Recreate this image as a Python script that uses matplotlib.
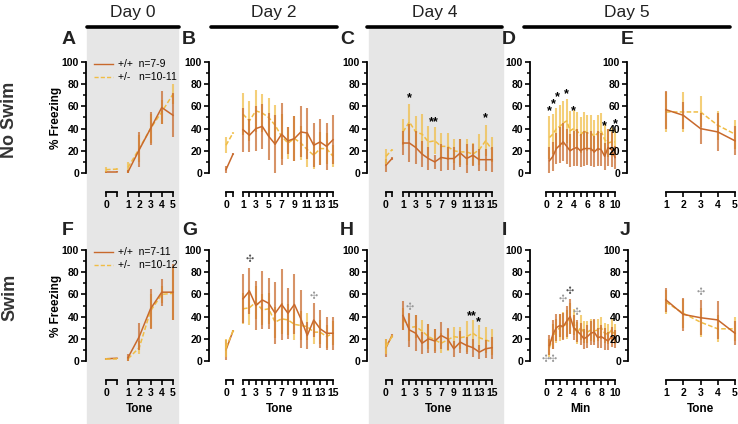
import numpy as np
import matplotlib
matplotlib.use('Agg')
import matplotlib.pyplot as plt
from matplotlib.lines import Line2D
from matplotlib.patches import Rectangle

plt.rcParams['font.family'] = ['Liberation Sans', 'DejaVu Sans']

# ---------------- data (means and error, % freezing) ----------------
tones5 = [1, 2, 3, 4, 5]
tones15 = list(range(1, 16))
minutes = [0.5 * i for i in range(1, 21)]
base_x = [0, 1]

# Day 0, no swim (A)
A_wt_base, A_wt_base_err = [1, 1], [1, 0.5]
A_het_base, A_het_base_err = [3, 3.5], [2, 1]
A_wt, A_wt_err = [1, 21, 40, 59, 52], [2, 16, 15, 15, 20]
A_het, A_het_err = [5, 22, 40, 55, 71], [5, 12, 13, 11, 9]

# Day 2, no swim (B)
B_wt_base, B_wt_base_err = [3, 17], [3, 1]
B_het_base, B_het_base_err = [25, 36], [7, 1]
B_wt = [39, 34, 40, 42, 33, 26, 35, 29, 31, 37, 36, 25, 28, 24, 30]
B_wt_err = [20, 15, 20, 20, 21, 26, 28, 12, 20, 23, 23, 20, 21, 21, 22]
B_het = [53, 47, 56, 54, 50, 43, 33, 27, 31, 27, 21, 16, 22, 22, 15]
B_het_err = [19, 18, 19, 17, 18, 18, 20, 14, 20, 15, 16, 12, 15, 14, 10]

# Day 4, no swim (C)
C_wt_base, C_wt_base_err = [7, 13], [6, 1]
C_het_base, C_het_base_err = [15, 21], [7, 1]
C_wt = [27, 27, 23, 17, 13, 10, 14, 13, 13, 18, 13, 16, 12, 12, 12]
C_wt_err = [11, 17, 15, 12, 10, 6, 12, 10, 10, 13, 13, 10, 10, 10, 11]
C_het = [37, 46, 37, 35, 28, 29, 24, 24, 20, 19, 19, 17, 21, 29, 21]
C_het_err = [12, 16, 14, 18, 14, 12, 12, 12, 11, 12, 12, 10, 14, 14, 11]

# Day 5 context, no swim (D)
D_wt = [11, 15, 22, 25, 28, 24, 20, 22, 23, 20, 22, 22, 22, 19, 22, 21, 15, 23, 21, 14]
D_wt_err = [12, 13, 14, 16, 17, 16, 15, 16, 17, 15, 16, 15, 16, 14, 16, 15, 12, 17, 16, 10]
D_het = [32, 35, 40, 42, 45, 47, 38, 40, 38, 34, 38, 36, 36, 33, 36, 38, 30, 27, 28, 28]
D_het_err = [19, 18, 19, 19, 20, 20, 18, 17, 17, 16, 17, 16, 16, 15, 16, 16, 14, 13, 13, 12]

# Day 5 tones, no swim (E)
E_wt, E_wt_err = [57, 52, 40, 37, 29], [17, 12, 14, 17, 13]
E_het, E_het_err = [55, 55, 55, 43, 35], [18, 18, 14, 13, 13]

# Day 0, swim (F)
F_wt_base, F_wt_base_err = [2, 2.5], [1, 0.5]
F_het_base, F_het_base_err = [2, 2], [1, 0.5]
F_wt, F_wt_err = [3, 22, 47, 62, 62], [3, 12, 18, 12, 25]
F_het, F_het_err = [2, 12, 45, 60, 61], [2, 6, 15, 8, 24]

# Day 2, swim (G)
G_wt_base, G_wt_base_err = [10, 27], [9, 1]
G_het_base, G_het_base_err = [12, 27], [8, 1]
G_wt = [56, 63, 50, 55, 52, 43, 51, 43, 51, 38, 23, 37, 29, 25, 25]
G_wt_err = [22, 21, 22, 26, 23, 28, 32, 23, 27, 26, 12, 15, 17, 15, 15]
G_het = [47, 48, 53, 46, 47, 35, 38, 37, 33, 32, 31, 26, 26, 22, 25]
G_het_err = [14, 16, 15, 14, 14, 14, 14, 14, 14, 13, 12, 11, 11, 10, 11]

# Day 4, swim (H)
H_wt_base, H_wt_base_err = [12, 23], [8, 1]
H_het_base, H_het_base_err = [13, 22], [7, 1]
H_wt = [41, 28, 25, 16, 20, 18, 23, 20, 11, 17, 14, 12, 8, 11, 12]
H_wt_err = [13, 15, 16, 10, 13, 11, 12, 10, 7, 10, 8, 8, 6, 8, 10]
H_het = [38, 30, 31, 27, 22, 19, 16, 19, 22, 21, 22, 25, 21, 19, 17]
H_het_err = [10, 12, 10, 10, 11, 10, 9, 10, 9, 10, 14, 12, 11, 12, 12]

# Day 5 context, swim (I)
I_wt = [14, 24, 30, 32, 31, 36, 40, 30, 27, 24, 20, 22, 25, 26, 21, 22, 20, 18, 22, 20]
I_wt_err = [9, 13, 12, 10, 12, 14, 16, 11, 10, 10, 9, 10, 11, 12, 9, 10, 10, 8, 9, 8]
I_het = [12, 22, 27, 30, 32, 33, 38, 35, 25, 30, 26, 26, 28, 27, 28, 30, 25, 24, 28, 24]
I_het_err = [8, 11, 11, 12, 12, 13, 14, 12, 10, 11, 10, 10, 10, 10, 10, 10, 9, 9, 10, 9]

# Day 5 tones, swim (J)
J_wt, J_wt_err = [55, 42, 39, 37, 25], [11, 15, 16, 17, 11]
J_het, J_het_err = [53, 43, 35, 29, 29], [11, 13, 13, 12, 11]

# significance marks: (x, y, text, colour)
C_marks = [(2, 67, '*', 'k'), (5.9, 46, '**', 'k'), (14, 49, '*', 'k')]
D_marks = [(0.5, 56, '*', 'k'), (1.1, 62, '*', 'k'), (1.6, 68, '*', 'k'),
           (3.0, 71, '*', 'k'), (4.0, 56, '*', 'k'), (8.5, 42, '*', 'k'), (10, 44, '*', 'k')]
G_marks = [(2, 92, '✣', '#555555'), (12, 59, '✣', '#999999')]
H_marks = [(2, 49, '✣', '#999999'), (11.8, 40, '**', 'k'), (12.9, 35, '*', 'k')]
I_marks = [(-0.1, 2, '✣', '#999999'), (1.0, 2, '✣', '#999999'), (2.45, 56, '✣', '#999999'),
           (3.5, 63, '✣', '#555555'), (4.5, 44, '✣', '#999999')]
J_marks = [(3, 62, '✣', '#999999')]

WT_C = '#c8692c'
HET_C = '#f0bd45'

# ---------------- layout helpers (pixel based) ----------------
W, H = 738, 424
fig = plt.figure(figsize=(W / 100, H / 100), dpi=100)


def fx(px):
    return px / W


def fy(py):
    return 1 - py / H


def make_ax(x0, x1, top, bottom):
    return fig.add_axes([fx(x0), fy(bottom), (x1 - x0) / W, (bottom - top) / H])


def style(ax, yaxis_gap=None):
    ax.set_facecolor('none')
    ax.set_ylim(0, 100)
    for s in ['top', 'right']:
        ax.spines[s].set_visible(False)
    ax.spines['bottom'].set_position(('outward', 19 * 0.72))
    ax.spines['bottom'].set_linewidth(1.3)
    ax.tick_params(axis='x', direction='out', length=3.5, width=1.2, pad=2,
                   labelsize=7.5)
    if yaxis_gap is None:
        ax.spines['left'].set_visible(False)
        ax.tick_params(axis='y', which='both', left=False, labelleft=False)
    else:
        ax.spines['left'].set_position(('outward', yaxis_gap * 0.72))
        ax.spines['left'].set_linewidth(1.3)
        ax.set_yticks([0, 20, 40, 60, 80, 100])
        ax.set_yticks([10, 30, 50, 70, 90], minor=True)
        ax.tick_params(axis='y', which='major', direction='out', length=3.5,
                       width=1.2, pad=1.5, labelsize=7.5)
        ax.tick_params(axis='y', which='minor', direction='out', length=2.2, width=1.1)
    for lab in ax.get_xticklabels() + ax.get_yticklabels():
        lab.set_fontweight('bold')


def draw(ax, x, m, e, color, ls):
    m = np.asarray(m, float)
    e = np.asarray(e, float)
    ax.vlines(x, np.clip(m - e, 0, None), m + e, colors=color, lw=1.5,
              alpha=0.72, clip_on=False)
    ax.plot(x, m, color=color, ls=ls, lw=1.1, clip_on=False)


def marks(ax, lst):
    for x, y, t, c in lst:
        ax.text(x, y, t, ha='center', va='center', color=c,
                fontsize=9 if t.startswith('*') else 7, fontweight='bold')


dash = (0, (3, 1.5))


def tone_panel(yaxis, zero, tones, top, bottom, n, wt_b, wt_be, het_b, het_be,
               wt, wt_e, het, het_e, extra=None):
    axz = make_ax(zero[0], zero[1], top, bottom)
    style(axz, yaxis_gap=zero[0] - yaxis)
    axz.set_xlim(0, 1)
    axz.set_xticks(base_x)
    axz.set_xticklabels(['0', ''])
    for lab in axz.get_xticklabels():
        lab.set_fontweight('bold')
    draw(axz, base_x, wt_b, wt_be, WT_C, '-')
    draw(axz, base_x, het_b, het_be, HET_C, dash)

    axt = make_ax(tones[0], tones[1], top, bottom)
    style(axt)
    xs = tones5 if n == 5 else tones15
    axt.set_xlim(1, n)
    axt.set_xticks(xs)
    axt.set_xticklabels([str(v) if (n == 5 or v % 2 == 1) else '' for v in xs])
    for lab in axt.get_xticklabels():
        lab.set_fontweight('bold')
    draw(axt, xs, het, het_e, HET_C, dash)
    draw(axt, xs, wt, wt_e, WT_C, '-')
    if extra:
        marks(axt, extra)
    return axz, axt


def min_panel(yaxis, span, top, bottom, wt, wt_e, het, het_e, extra):
    ax = make_ax(span[0], span[1], top, bottom)
    style(ax, yaxis_gap=span[0] - yaxis)
    ax.set_xlim(0, 10)
    ax.set_xticks(range(0, 11))
    ax.set_xticklabels([str(v) if v % 2 == 0 else '' for v in range(0, 11)])
    for lab in ax.get_xticklabels():
        lab.set_fontweight('bold')
    draw(ax, minutes, het, het_e, HET_C, dash)
    draw(ax, minutes, wt, wt_e, WT_C, '-')
    marks(ax, extra)
    return ax


def five_panel(yaxis, span, top, bottom, wt, wt_e, het, het_e, extra=None):
    ax = make_ax(span[0], span[1], top, bottom)
    style(ax, yaxis_gap=span[0] - yaxis)
    ax.set_xlim(1, 5)
    ax.set_xticks(tones5)
    for lab in ax.get_xticklabels():
        lab.set_fontweight('bold')
    draw(ax, tones5, het, het_e, HET_C, dash)
    draw(ax, tones5, wt, wt_e, WT_C, '-')
    if extra:
        marks(ax, extra)
    return ax


# ---------------- background shading and day headers ----------------
for x0, x1 in [(87, 178), (369, 503)]:
    fig.patches.append(Rectangle((fx(x0), 0), fx(x1) - fx(x0), fy(27),
                                 transform=fig.transFigure, color='#e6e6e6',
                                 zorder=-5))

days = ['Day 0', 'Day 2', 'Day 4', 'Day 5']
day_bars = [(87, 179), (211, 337), (367, 502), (524, 730)]
for d, (x0, x1) in zip(days, day_bars):
    fig.add_artist(Line2D([fx(x0), fx(x1)], [fy(27), fy(27)], color='black',
                          lw=2.6, solid_capstyle='round', transform=fig.transFigure))
    fig.text(fx((x0 + x1) / 2), fy(13), d, ha='center', va='center',
             fontsize=12.5, color='#222222')

# ---------------- panels ----------------
r1 = (62, 173)
r2 = (250, 361)

tone_panel(86, (106, 117), (128, 173), *r1, 5, A_wt_base, A_wt_base_err,
           A_het_base, A_het_base_err, A_wt, A_wt_err, A_het, A_het_err)
tone_panel(209, (226, 233), (243, 333), *r1, 15, B_wt_base, B_wt_base_err,
           B_het_base, B_het_base_err, B_wt, B_wt_err, B_het, B_het_err)
tone_panel(367, (386, 392), (403, 492), *r1, 15, C_wt_base, C_wt_base_err,
           C_het_base, C_het_base_err, C_wt, C_wt_err, C_het, C_het_err, C_marks)
min_panel(530, (546, 615), *r1, D_wt, D_wt_err, D_het, D_het_err, D_marks)
five_panel(627, (666, 735), *r1, E_wt, E_wt_err, E_het, E_het_err)

tone_panel(86, (106, 117), (128, 173), *r2, 5, F_wt_base, F_wt_base_err,
           F_het_base, F_het_base_err, F_wt, F_wt_err, F_het, F_het_err)
tone_panel(209, (226, 233), (243, 333), *r2, 15, G_wt_base, G_wt_base_err,
           G_het_base, G_het_base_err, G_wt, G_wt_err, G_het, G_het_err, G_marks)
tone_panel(367, (386, 392), (403, 492), *r2, 15, H_wt_base, H_wt_base_err,
           H_het_base, H_het_base_err, H_wt, H_wt_err, H_het, H_het_err, H_marks)
min_panel(530, (546, 615), *r2, I_wt, I_wt_err, I_het, I_het_err, I_marks)
five_panel(628, (666, 735), *r2, J_wt, J_wt_err, J_het, J_het_err, J_marks)

# ---------------- legends ----------------
handles = [Line2D([], [], color=WT_C, lw=1.0), Line2D([], [], color=HET_C, lw=1.0, ls=dash)]
for top, labels in [(55, ['+/+  n=7-9', '+/-   n=10-11']),
                    (243, ['+/+  n=7-11', '+/-   n=10-12'])]:
    fig.legend(handles, labels, loc='upper left', bbox_to_anchor=(fx(90), fy(top)),
               frameon=False, fontsize=7.5, handlelength=1.8, handletextpad=0.5,
               labelspacing=0.3, borderaxespad=0)

# ---------------- labels ----------------
letters = [('A', 62, 40), ('B', 182, 40), ('C', 340, 40), ('D', 502, 40), ('E', 621, 40),
           ('F', 62, 230), ('G', 182, 230), ('H', 340, 230), ('I', 502, 230), ('J', 620, 230)]
for t, x, y in letters:
    fig.text(fx(x), fy(y), t, ha='left', va='center', fontsize=14, fontweight='bold',
             color='#222222')

for yc in [(r1[0] + r1[1]) / 2, (r2[0] + r2[1]) / 2]:
    fig.text(fx(56), fy(yc), '% Freezing', rotation=90, ha='center', va='center',
             fontsize=8.5, fontweight='bold')

fig.text(fx(10), fy(120), 'No Swim', rotation=90, ha='center', va='center',
         fontsize=13, fontweight='bold', color='#333333')
fig.text(fx(10), fy(297), 'Swim', rotation=90, ha='center', va='center',
         fontsize=13, fontweight='bold', color='#333333')

for t, x0, x1 in [('Tone', 106, 173), ('Tone', 226, 333), ('Tone', 386, 492),
                  ('Min', 546, 615), ('Tone', 666, 735)]:
    fig.text(fx((x0 + x1) / 2), fy(409), t, ha='center', va='center',
             fontsize=8.5, fontweight='bold')

fig.savefig('out.png', dpi=100)
